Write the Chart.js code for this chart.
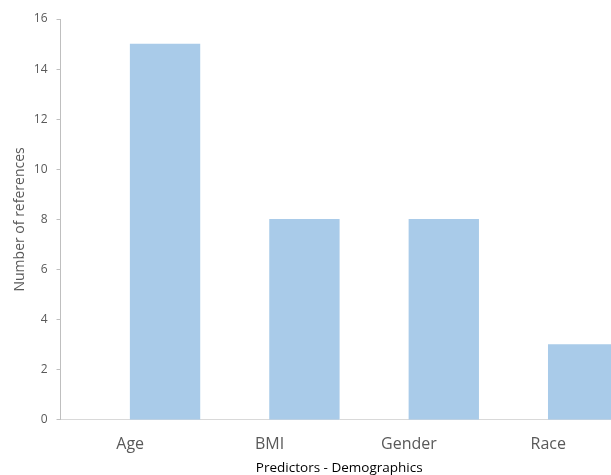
<!DOCTYPE html>
<html>
<head>
<meta charset="utf-8">
<script src="https://cdn.jsdelivr.net/npm/chart.js@4.4.1/dist/chart.umd.min.js"></script>
<style>
  html, body { margin: 0; padding: 0; background: #fff; overflow: hidden; }
  #wrap { position: absolute; left: 0; top: 0; width: 620px; height: 476px; }
</style>
</head>
<body>
<div id="wrap"><canvas id="grafico"></canvas></div>
<script>
  // dados
  const categorias = ['Age', 'BMI', 'Gender', 'Race'];
  const referencias = [15, 8, 8, 3];
  const serieVazia = [null, null, null, null]; // série sem valores (ocupa a 1ª metade)
  const ticksY = [0, 2, 4, 6, 8, 10, 12, 14, 16];

  const cinza = '#595959';
  const linha = '#d9d9d9';

  new Chart(document.getElementById('grafico'), {
    type: 'bar',
    data: {
      labels: categorias,
      datasets: [
        { label: '', data: serieVazia, backgroundColor: 'rgba(0,0,0,0)' },
        { label: 'Number of references', data: referencias, backgroundColor: '#a9cbe9' },
      ],
    },
    options: {
      responsive: true,
      maintainAspectRatio: false,
      animation: false,
      categoryPercentage: 1,
      barPercentage: 1,
      layout: { padding: { top: 19, right: 2, left: 12, bottom: 0 } },
      plugins: { legend: { display: false }, tooltip: { enabled: false } },
      scales: {
        x: {
          grid: { display: false, drawTicks: false },
          border: { color: linha, width: 1 },
          ticks: { color: cinza, padding: 17, font: { family: 'Open Sans', size: 16, lineHeight: 1 } },
          title: {
            display: true,
            text: 'Predictors - Demographics',
            color: '#000',
            padding: { top: -10, bottom: 0 },
            font: { family: 'Open Sans', size: 13.5 },
          },
        },
        y: {
          min: 0,
          max: 16,
          afterBuildTicks: (s) => { s.ticks = ticksY.map((v) => ({ value: v })); },
          grid: { display: true, drawOnChartArea: false, drawTicks: true, tickLength: 4, color: '#bfbfbf' },
          border: { color: '#bfbfbf', width: 1 },
          ticks: { color: cinza, padding: 9, font: { family: 'Open Sans', size: 12 } },
          title: {
            display: true,
            text: 'Number of references',
            color: cinza,
            padding: { top: 0, bottom: -4 },
            font: { family: 'Open Sans', size: 14 },
          },
        },
      },
    },
  });
</script>
</body>
</html>
